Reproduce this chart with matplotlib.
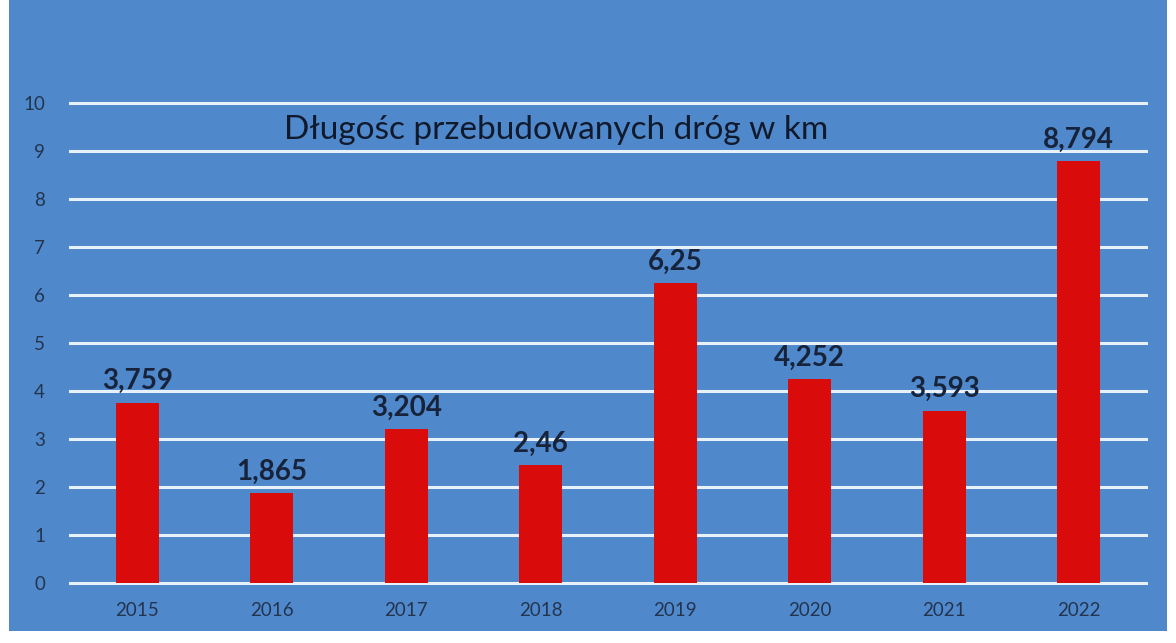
import matplotlib.pyplot as plt
from matplotlib.patches import Rectangle

years = ["2015", "2016", "2017", "2018", "2019", "2020", "2021", "2022"]
lengths = [3.759, 1.865, 3.204, 2.46, 6.25, 4.252, 3.593, 8.794]
labels = ["3,759", "1,865", "3,204", "2,46", "6,25", "4,252", "3,593", "8,794"]

bg = "#4f89cc"
plt.rcParams["font.family"] = ["Lato", "DejaVu Sans"]

fig = plt.figure(figsize=(11.76, 6.43), dpi=100)
fig.patch.set_facecolor("white")
fig.patches.append(Rectangle((9 / 1176, 12 / 643), 1158 / 1176, 1, transform=fig.transFigure,
                             facecolor=bg, edgecolor="none", zorder=-5))

ax = fig.add_axes([70 / 1176, 60 / 643, 1076 / 1176, 480 / 643])
ax.set_facecolor("none")

x = range(len(years))
ax.bar(x, lengths, width=0.32, color="#d90b0b", zorder=3)
for i, (v, t) in enumerate(zip(lengths, labels)):
    ax.annotate(t, (i, v), xytext=(0, 6), textcoords="offset points", ha="center", va="bottom",
                fontsize=20, fontweight="bold", color="#17233a", zorder=4)

ax.set_xlim(-0.5, 7.5)
ax.set_ylim(0, 10)
ax.set_yticks(range(11))
ax.set_xticks(list(x))
ax.set_xticklabels(years)
ax.grid(axis="y", color="#e8f0fa", linewidth=2.2, zorder=1)
for gl in ax.get_ygridlines():
    gl.set_clip_on(False)
ax.tick_params(length=0, colors="#24344f", labelsize=13.5)
ax.tick_params(axis="y", pad=18)
ax.tick_params(axis="x", pad=14)
for s in ax.spines.values():
    s.set_visible(False)

fig.text(556 / 1176, 1 - 130 / 643, "Długośc przebudowanych dróg w km", ha="center", va="center",
         fontsize=24, color="#111a2c")

fig.savefig("out.png", dpi=100, facecolor=fig.get_facecolor())
